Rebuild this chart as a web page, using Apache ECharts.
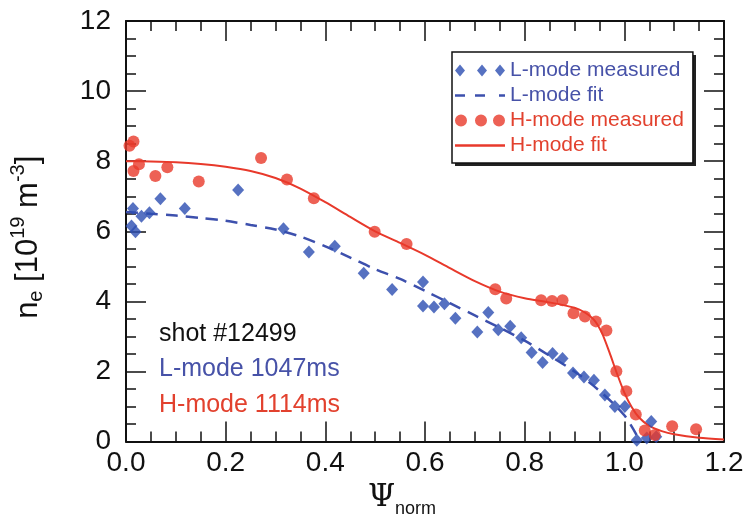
<!DOCTYPE html>
<html>
<head>
<meta charset="utf-8">
<script src="https://cdn.jsdelivr.net/npm/echarts@6/dist/echarts.min.js"></script>
<style>
html,body{margin:0;padding:0;background:#fff;}
#chart{width:749px;height:523px;}
</style>
</head>
<body>
<div id="chart"></div>
<script>
// ---- data ----
var xTicks = [0, 0.2, 0.4, 0.6, 0.8, 1.0, 1.2];
var yTicks = [0, 2, 4, 6, 8, 10, 12];

var lMeasX = [0.011,0.014,0.019,0.031,0.047,0.069,0.118,0.225,0.316,0.367,0.419,0.477,0.534,0.596,0.596,0.618,0.639,0.661,0.705,0.727,0.747,0.771,0.793,0.814,0.836,0.856,0.876,0.897,0.919,0.939,0.961,0.981,1.001,1.054,1.025,1.045,1.064];
var lMeasY = [6.15,6.65,5.99,6.43,6.53,6.93,6.65,7.18,6.07,5.41,5.57,4.80,4.34,4.55,3.87,3.84,3.93,3.52,3.13,3.68,3.19,3.29,2.96,2.54,2.26,2.51,2.37,1.96,1.84,1.75,1.33,1.00,1.00,0.57,0.04,0.10,0.14];

var lFitX = [0,0.05,0.1,0.15,0.2,0.25,0.3,0.35,0.4,0.45,0.5,0.55,0.6,0.65,0.7,0.75,0.8,0.85,0.9,0.95,1.0,1.03];
var lFitY = [6.55,6.5,6.45,6.38,6.3,6.18,6.05,5.85,5.57,5.25,4.92,4.64,4.3,3.95,3.6,3.25,2.88,2.45,2.0,1.45,0.75,0.05];

var hMeasX = [0.007,0.015,0.015,0.026,0.059,0.083,0.146,0.271,0.323,0.377,0.499,0.563,0.741,0.763,0.833,0.855,0.876,0.898,0.921,0.943,0.964,0.984,1.004,1.023,1.041,1.061,1.096,1.144];
var hMeasY = [8.44,8.56,7.72,7.91,7.58,7.83,7.42,8.09,7.48,6.94,5.99,5.64,4.35,4.08,4.03,4.01,4.03,3.66,3.57,3.43,3.17,2.01,1.44,0.77,0.32,0.19,0.44,0.35];

var hFitX = [0,0.05,0.1,0.15,0.2,0.25,0.3,0.35,0.4,0.45,0.5,0.55,0.6,0.65,0.7,0.75,0.8,0.85,0.9,0.92,0.94,0.955,0.97,0.985,1.0,1.015,1.03,1.05,1.075,1.1,1.15,1.2];
var hFitY = [8.0,7.99,7.97,7.92,7.84,7.72,7.52,7.22,6.83,6.41,6.0,5.67,5.33,4.95,4.58,4.28,4.09,3.97,3.82,3.69,3.46,3.1,2.55,1.95,1.4,0.98,0.68,0.45,0.3,0.21,0.11,0.06];

var seriesNames = ['L-mode measured','L-mode fit','H-mode measured','H-mode fit'];
var notes = ['shot #12499','L-mode 1047ms','H-mode 1114ms'];

function zip(a,b){ return a.map(function(v,i){ return [v,b[i]]; }); }

var RED = '#e8392b', BLUE = '#2c4db2', BLUE_LINE = '#3d50ad', BLUE_TXT = '#4752a8', RED_TXT = '#e2412e', INK = '#111';
var FONT = 'Liberation Sans, Arial, sans-serif';

function axisCommon(isX, showLabel) {
  return {
    type: 'value',
    min: 0,
    max: isX ? 1.2 : 12,
    interval: isX ? 0.2 : 2,
    axisLine: { show: true, onZero: false, lineStyle: { color: INK, width: 2 } },
    axisTick: { show: true, inside: true, length: 20, lineStyle: { color: INK, width: 1.5 } },
    minorTick: { show: true, splitNumber: 4, length: 10, lineStyle: { color: INK, width: 1.5 } },
    splitLine: { show: false },
    minorSplitLine: { show: false },
    axisLabel: {
      show: showLabel,
      fontSize: 28, color: INK, fontFamily: FONT,
      margin: isX ? 8 : 15,
      formatter: function (v) {
        if (isX) { var t = xTicks.filter(function(k){return Math.abs(k-v)<1e-6;}); return t.length ? t[0].toFixed(1) : ''; }
        var u = yTicks.filter(function(k){return Math.abs(k-v)<1e-6;}); return u.length ? String(u[0]) : '';
      }
    }
  };
}

var xBottom = axisCommon(true, true);
xBottom.position = 'bottom';
xBottom.name = '{a|Ψ}{b|norm}';
xBottom.nameLocation = 'middle';
xBottom.nameGap = 36;
xBottom.nameTextStyle = {
  padding: [0, 46, 0, 0],
  rich: {
    a: { fontSize: 31, fontFamily: 'DejaVu Serif, Liberation Serif, serif', color: INK },
    b: { fontSize: 18, fontFamily: FONT, color: INK, padding: [22, 0, 0, 0] }
  }
};
var xTop = axisCommon(true, false);
xTop.position = 'top';

var yLeft = axisCommon(false, true);
yLeft.position = 'left';
yLeft.name = '{n|n}{s|e}{t| [10}{p|19}{t| m}{p|-3}{t|]}';
yLeft.nameLocation = 'middle';
yLeft.nameRotate = 90;
yLeft.nameGap = 78;
yLeft.nameTextStyle = {
  padding: [0, 12, 0, 0],
  rich: {
    n: { fontSize: 31, fontFamily: FONT, color: INK },
    t: { fontSize: 31, fontFamily: FONT, color: INK },
    s: { fontSize: 20, fontFamily: FONT, color: INK, padding: [16, 0, 0, 0] },
    p: { fontSize: 20, fontFamily: FONT, color: INK, padding: [0, 0, 20, 0] }
  }
};
var yRight = axisCommon(false, false);
yRight.position = 'right';

var chart = echarts.init(document.getElementById('chart'), null, { renderer: 'canvas' });
chart.setOption({
  backgroundColor: '#ffffff',
  animation: false,
  grid: { left: 123, right: 25, top: 21, bottom: 74, containLabel: false },
  xAxis: [xBottom, xTop],
  yAxis: [yLeft, yRight],
  legend: {
    orient: 'vertical',
    left: 452, top: 52,
    padding: [8, 9, 7, 3],
    itemGap: 4,
    itemWidth: 50, itemHeight: 12,
    symbolKeepAspect: true,
    selectedMode: false,
    backgroundColor: '#ffffff',
    borderColor: INK, borderWidth: 1.5,
    z: 10,
    textStyle: { fontSize: 21, fontFamily: FONT, lineHeight: 21 },
    data: [
      { name: seriesNames[0], icon: 'path://M0 6L5 0L10 6L5 12Z M22 6L27 0L32 6L27 12Z M40 6L45 0L50 6L45 12Z', itemStyle: { color: BLUE, borderWidth: 0 }, textStyle: { color: BLUE_TXT } },
      { name: seriesNames[1], icon: 'path://M0 0H10V2.5H0Z M20 0H30V2.5H20Z M44 0H50V2.5H44Z', itemStyle: { color: BLUE_LINE, borderWidth: 0 }, textStyle: { color: BLUE_TXT } },
      { name: seriesNames[2], icon: 'path://M0 6A6 6 0 1 0 12 6A6 6 0 1 0 0 6Z M20 6A6 6 0 1 0 32 6A6 6 0 1 0 20 6Z M38 6A6 6 0 1 0 50 6A6 6 0 1 0 38 6Z', itemStyle: { color: RED, borderWidth: 0 }, textStyle: { color: RED_TXT } },
      { name: seriesNames[3], icon: 'path://M0 0H50V2.5H0Z', itemStyle: { color: RED, borderWidth: 0 }, textStyle: { color: RED_TXT } }
    ]
  },
  series: [
    { name: seriesNames[1], type: 'line', data: zip(lFitX, lFitY), smooth: 0.3, symbol: 'none', color: BLUE_LINE,
      lineStyle: { color: BLUE_LINE, width: 2.5, type: [12, 8] }, z: 2 },
    { name: seriesNames[3], type: 'line', data: zip(hFitX, hFitY), smooth: 0.25, symbol: 'none', color: RED,
      lineStyle: { color: RED, width: 2 }, z: 2 },
    { name: seriesNames[0], type: 'scatter', data: zip(lMeasX, lMeasY), symbol: 'diamond', symbolSize: [12, 13],
      itemStyle: { color: BLUE }, z: 3 },
    { name: seriesNames[2], type: 'scatter', data: zip(hMeasX, hMeasY), symbol: 'circle', symbolSize: 12,
      itemStyle: { color: RED }, z: 4 }
  ],
  graphic: [
    { type: 'rect', left: 455, top: 55, z: 5, shape: { width: 241, height: 111 }, style: { fill: '#222' } },
    { type: 'text', x: 159, y: 334, style: { text: notes[0], fill: INK, fontSize: 25, fontFamily: FONT, verticalAlign: 'middle' } },
    { type: 'text', x: 159, y: 369, style: { text: notes[1], fill: BLUE_TXT, fontSize: 25, fontFamily: FONT, verticalAlign: 'middle' } },
    { type: 'text', x: 159, y: 405, style: { text: notes[2], fill: RED_TXT, fontSize: 25, fontFamily: FONT, verticalAlign: 'middle' } }
  ]
});
</script>
</body>
</html>
